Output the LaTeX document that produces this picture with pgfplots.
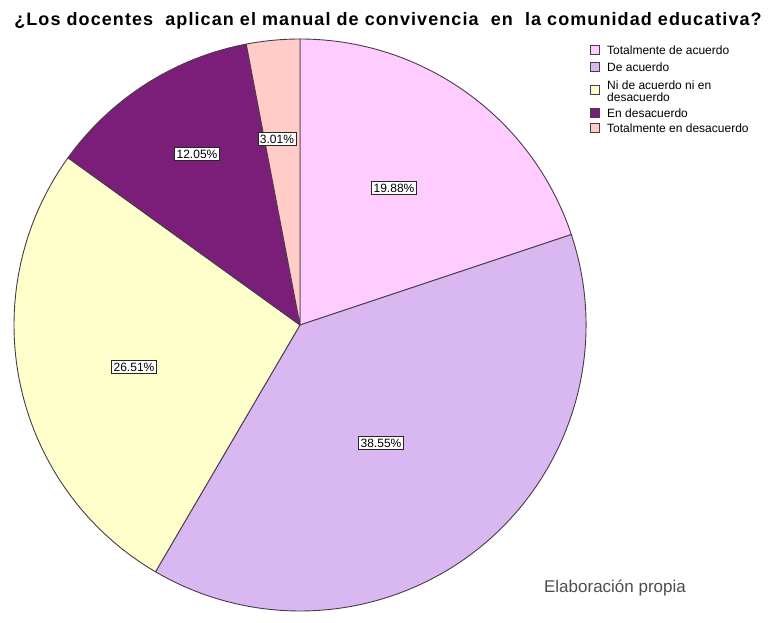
\documentclass[border=0pt]{standalone}
\usepackage{pgfplots}
\pgfplotsset{compat=1.18}
\usepackage{fontspec}
\setmainfont{Liberation Sans}
\definecolor{cA}{HTML}{FFCCFF}
\definecolor{cB}{HTML}{D9B8F2}
\definecolor{cC}{HTML}{FFFFCC}
\definecolor{cD}{HTML}{7A1E7A}
\definecolor{cE}{HTML}{FFCCC8}
\definecolor{edge}{HTML}{4A3A4A}
\begin{document}
\begin{tikzpicture}
\begin{axis}[hide axis, scale only axis, width=772pt, height=611pt,
  xmin=0, xmax=772, ymin=0, ymax=611, y dir=reverse, clip=false]
\path (axis cs:0,0) rectangle (axis cs:772,611);
% slices: value / colour (percentages, clockwise from 12 o'clock)
\gdef\cum{0}
\foreach \v/\col in {19.88/cA, 38.55/cB, 26.51/cC, 12.05/cD, 3.01/cE}{
  \pgfmathsetmacro{\sa}{90-3.6*\cum}
  \pgfmathsetmacro{\sb}{90-3.6*(\cum+\v)}
  \edef\temp{\noexpand\filldraw[fill=\col, draw=edge, line width=0.9pt, line join=round]
    (axis cs:300,325) -- +(\sa:286pt) arc[start angle=\sa, end angle=\sb, radius=286pt] -- cycle;}
  \temp
  \pgfmathsetmacro{\n}{\cum+\v}
  \global\let\cum\n
}
\foreach \v/\lx/\ly in {19.88/394/188, 38.55/381/443, 26.51/134/367, 12.05/197/154, 3.01/277/139}{
  \edef\temp{\noexpand\node[draw=black!85, fill=white, inner sep=2pt, line width=0.8pt, font=\noexpand\fontsize{12}{13}\noexpand\selectfont]
    at (axis cs:\lx,\ly) {\v\noexpand\%};}
  \temp
}
\node[font=\fontsize{18}{20}\selectfont\bfseries\addfontfeatures{LetterSpace=6}, anchor=center] at (axis cs:388,21)
  {¿Los docentes\ \ aplican el manual de convivencia\ \ en\ \ la comunidad educativa?};
% legend
\filldraw[fill=cA, draw=edge, line width=0.6pt] (axis cs:590,45) rectangle (axis cs:599,54);
\node[anchor=west, inner sep=0pt, font=\fontsize{12}{13}\selectfont] at (axis cs:607,50) {Totalmente de acuerdo};
\filldraw[fill=cB, draw=edge, line width=0.6pt] (axis cs:590,62) rectangle (axis cs:599,71);
\node[anchor=west, inner sep=0pt, font=\fontsize{12}{13}\selectfont] at (axis cs:607,67) {De acuerdo};
\filldraw[fill=cC, draw=edge, line width=0.6pt] (axis cs:590,85) rectangle (axis cs:599,94);
\node[anchor=west, inner sep=0pt, align=left, font=\fontsize{12}{11.5}\selectfont] at (axis cs:607,91) {Ni de acuerdo ni en\\desacuerdo};
\filldraw[fill=cD, draw=edge, line width=0.6pt] (axis cs:590,108) rectangle (axis cs:599,117);
\node[anchor=west, inner sep=0pt, font=\fontsize{12}{13}\selectfont] at (axis cs:607,113) {En desacuerdo};
\filldraw[fill=cE, draw=edge, line width=0.6pt] (axis cs:590,123) rectangle (axis cs:599,132);
\node[anchor=west, inner sep=0pt, font=\fontsize{12}{13}\selectfont] at (axis cs:607,128) {Totalmente en desacuerdo};
\node[anchor=center, text=black!70, font=\fontsize{17}{18}\selectfont] at (axis cs:615,588) {Elaboración propia};
\end{axis}
\end{tikzpicture}
\end{document}
